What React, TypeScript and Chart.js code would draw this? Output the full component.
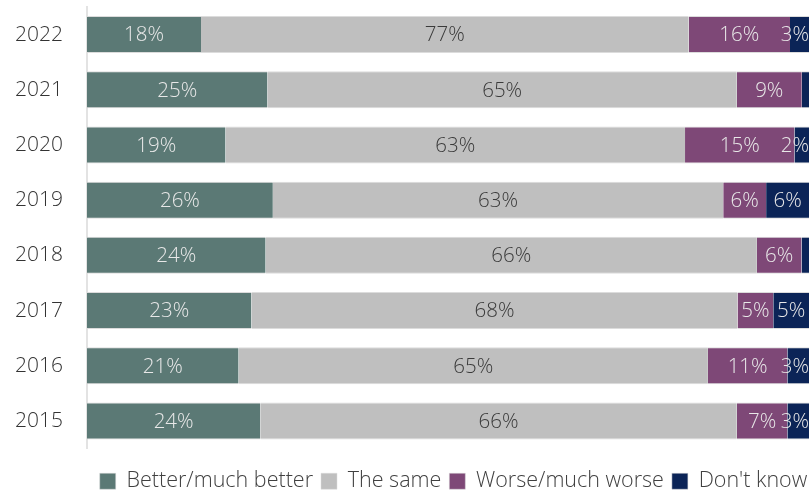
import React, { useEffect, useRef } from "react";
import { Chart, registerables } from "chart.js";

Chart.register(...registerables);

const years = ["2022", "2021", "2020", "2019", "2018", "2017", "2016", "2015"];
const better = [18, 25, 19, 26, 24, 23, 21, 24];
const same = [77, 65, 63, 63, 66, 68, 65, 66];
const worse = [16, 9, 15, 6, 6, 5, 11, 7];
const dontKnow = [3, 1, 2, 6, 1, 5, 3, 3];

const seriesNames = ["Better/much better", "The same", "Worse/much worse", "Don't know"];
const seriesColors = ["#5b7975", "#bfbfbf", "#7e4877", "#0b2457"];
const labelColors = ["#e8e8e8", "#3a3a3a", "#e8e8e8", "#e8e8e8"];

const FONT = "'Open Sans', 'Noto Sans', sans-serif";

export default function App() {
  const ref = useRef<HTMLCanvasElement | null>(null);

  useEffect(() => {
    const raw = [better, same, worse, dontKnow];
    const totals = years.map((_, i) => raw.reduce((s, a) => s + a[i], 0));

    const labelPlugin = {
      id: "segLabels",
      afterLayout(chart: any) {
        const lg = chart.legend;
        if (lg) {
          lg.top += 14;
          lg.bottom += 14;
          lg.left += 49;
          lg.right += 49;
        }
      },
      afterDatasetsDraw(chart: any) {
        const ctx = chart.ctx;
        const right = chart.chartArea.right;
        ctx.save();
        ctx.font = `300 20.5px ${FONT}`;
        ctx.textAlign = "center";
        ctx.textBaseline = "middle";
        chart.data.datasets.forEach((ds: any, di: number) => {
          const meta = chart.getDatasetMeta(di);
          meta.data.forEach((el: any, i: number) => {
            const v = ds.rawValues[i];
            if (v < 2) return;
            const txt = v + "%";
            const w = ctx.measureText(txt).width;
            let x = (el.x + el.base) / 2;
            if (x + w / 2 > right) x = right - w / 2;
            ctx.fillStyle = labelColors[di];
            ctx.fillText(txt, x, el.y + 1);
          });
        });
        ctx.restore();
      },
    };

    const chart = new Chart(ref.current as HTMLCanvasElement, {
      type: "bar",
      data: {
        labels: years,
        datasets: raw.map((arr, di) => ({
          label: seriesNames[di],
          data: arr.map((v, i) => (v / totals[i]) * 100),
          rawValues: arr,
          backgroundColor: seriesColors[di],
          borderColor: "#dcdcdc",
          borderWidth: { top: 1, bottom: 1, left: 0, right: 0 },
          borderSkipped: false,
          barPercentage: 0.67,
          categoryPercentage: 1,
        })) as any,
      },
      options: {
        indexAxis: "y",
        animation: false,
        responsive: false,
        maintainAspectRatio: false,
        layout: { padding: { top: 7, right: 0, left: 0, bottom: 2 } },
        scales: {
          x: {
            stacked: true,
            min: 0,
            max: 100,
            display: false,
          },
          y: {
            stacked: true,
            grid: { display: false },
            border: { display: true, color: "#e3e3e3", width: 2 },
            ticks: {
              color: "#333333",
              font: { family: FONT, size: 21, weight: "300" as any },
              padding: 16,
            },
            afterFit(scale: any) {
              scale.width = 87;
              scale.paddingTop = 0;
              scale.paddingBottom = 0;
            },
          },
        },
        plugins: {
          legend: {
            position: "bottom",
            labels: {
              boxWidth: 16,
              boxHeight: 16,
              padding: 8,
              color: "#404040",
              font: { family: FONT, size: 21.5, weight: "300" as any },
            },
          },
          tooltip: { enabled: false },
        },
      },
      plugins: [labelPlugin],
    });
    return () => chart.destroy();
  }, []);

  return (
    <div style={{ position: "absolute", left: 0, top: 0, width: 809, height: 490, background: "#fff" }}>
      <canvas ref={ref} width={809} height={490} style={{ width: 809, height: 490, display: "block" }} />
    </div>
  );
}
